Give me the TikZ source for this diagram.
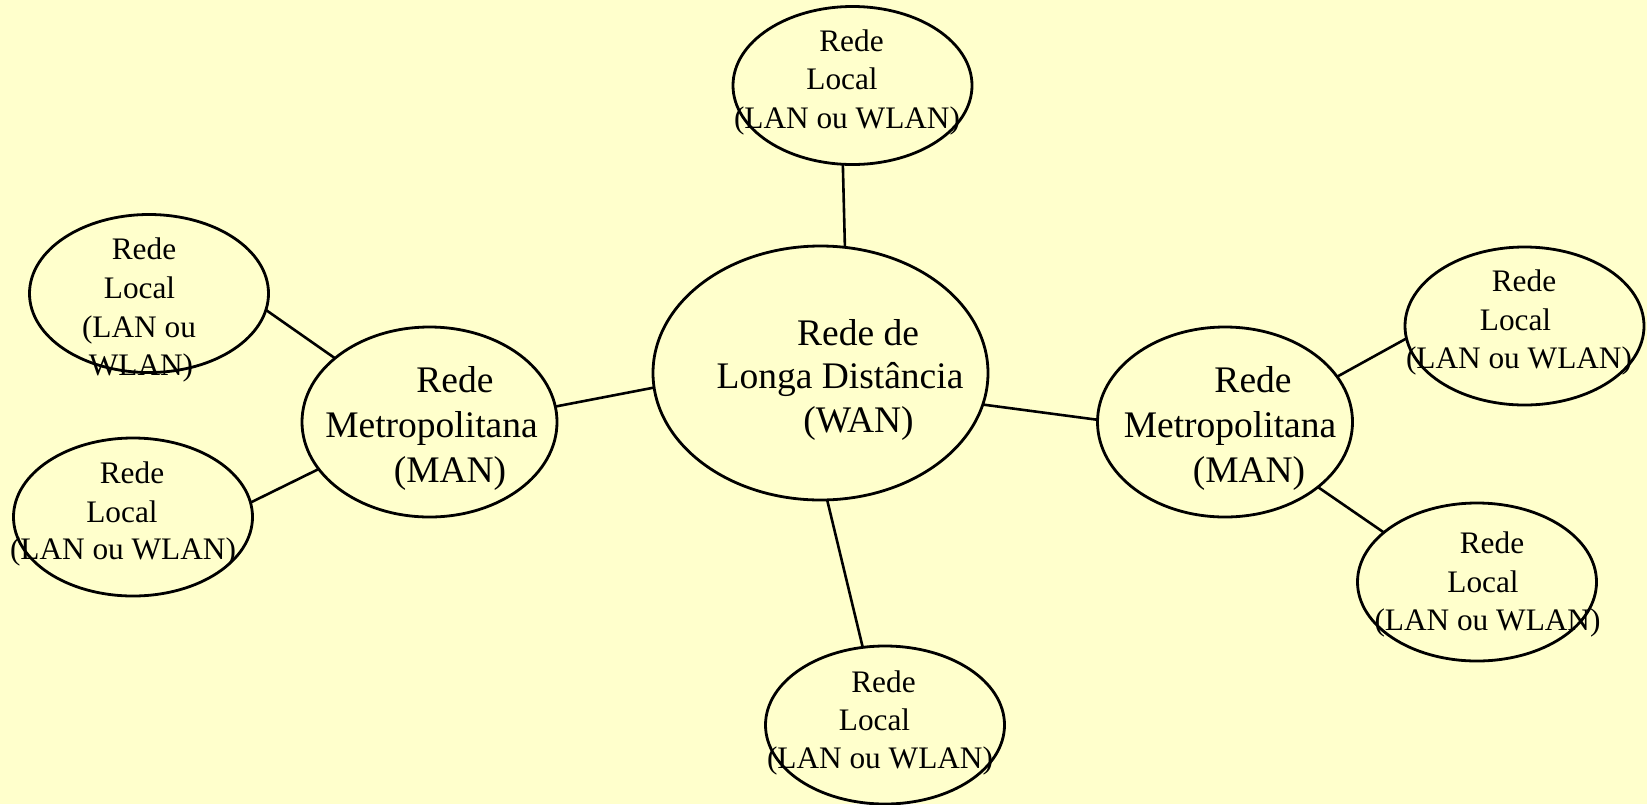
\documentclass[tikz,border=0pt]{standalone}
\usepackage{fontspec}
\setmainfont{Liberation Serif}
\usetikzlibrary{shapes.geometric}
\definecolor{paper}{RGB}{255,255,204}
\tikzset{
  net/.style={draw=black, line width=2.8pt, shape=ellipse, inner sep=0pt, outer sep=0pt},
  lan/.style={net, minimum width=239pt, minimum height=158pt},
  man/.style={net, minimum width=255pt, minimum height=190pt},
  wan/.style={net, minimum width=335pt, minimum height=254pt},
  link/.style={draw=black, line width=2.6pt},
  small/.style={inner sep=0pt, anchor=base, font=\fontsize{31.3}{38}\selectfont},
  big/.style={inner sep=0pt, anchor=base, font=\fontsize{37.5}{45}\selectfont},
}
\begin{document}
\begin{tikzpicture}[x=1pt,y=-1pt]
  \fill[paper] (0,0) rectangle (1647,804);
  \useasboundingbox (0,0) rectangle (1647,804);

  % networks
  \node[wan] (wan) at (820.5,373) {};
  \node[man] (manl) at (429.5,422) {};
  \node[man] (manr) at (1225,422) {};
  \node[lan] (lant) at (852.5,85.5) {};
  \node[lan] (lanb) at (885,725) {};
  \node[lan] (lanul) at (149,293.5) {};
  \node[lan] (lanll) at (133,517) {};
  \node[lan] (lanur) at (1524.5,326) {};
  \node[lan] (lanlr) at (1477,582) {};

  % links
  \draw[link] (wan.79.4) -- (lant.263.8);
  \draw[link] (wan.273.3) -- (lanb.106.9);
  \draw[link] (wan.185.5) -- (manl.7);
  \draw[link] (wan.349.5) -- (manr.179);
  \draw[link] (manl.146.6) -- (lanul.352.2);
  \draw[link] (manl.203.2) -- (lanll.7.6);
  \draw[link] (manr.22.8) -- (lanur.186.9);
  \draw[link] (manr.325.9) -- (lanlr.152.7);

  % labels: wide area network
  \node[big] (wan1) at (858,345) {Rede de};
  \node[big] (wan2) at (840,388) {Longa Distância};
  \node[big] (wan3) at (858.5,432) {(WAN)};

  % labels: metropolitan networks
  \node[big] (ml1) at (455,392) {Rede};
  \node[big] (ml2) at (431.5,437) {Metropolitana};
  \node[big] (ml3) at (450,482) {(MAN)};
  \node[big] (mr1) at (1253,392) {Rede};
  \node[big] (mr2) at (1230,437) {Metropolitana};
  \node[big] (mr3) at (1249,482) {(MAN)};

  % labels: local networks
  \node[small] (lt1) at (851.5,51) {Rede};
  \node[small] (lt2) at (842,89) {Local};
  \node[small] (lt3) at (847,128) {(LAN ou WLAN)};

  \node[small] (lul1) at (144,259) {Rede};
  \node[small] (lul2) at (139.5,298) {Local};
  \node[small] (lul3) at (139,337) {(LAN ou};
  \node[small] (lul4) at (141,375) {WLAN)};

  \node[small] (lll1) at (132,483) {Rede};
  \node[small] (lll2) at (122,522) {Local};
  \node[small] (lll3) at (123,559) {(LAN ou WLAN)};

  \node[small] (lb1) at (883.5,692) {Rede};
  \node[small] (lb2) at (874.5,730) {Local};
  \node[small] (lb3) at (880,768) {(LAN ou WLAN)};

  \node[small] (lur1) at (1524,291) {Rede};
  \node[small] (lur2) at (1515.5,330) {Local};
  \node[small] (lur3) at (1519,368) {(LAN ou WLAN)};

  \node[small] (llr1) at (1492,553) {Rede};
  \node[small] (llr2) at (1483,592) {Local};
  \node[small] (llr3) at (1487.5,630) {(LAN ou WLAN)};
\end{tikzpicture}
\end{document}
